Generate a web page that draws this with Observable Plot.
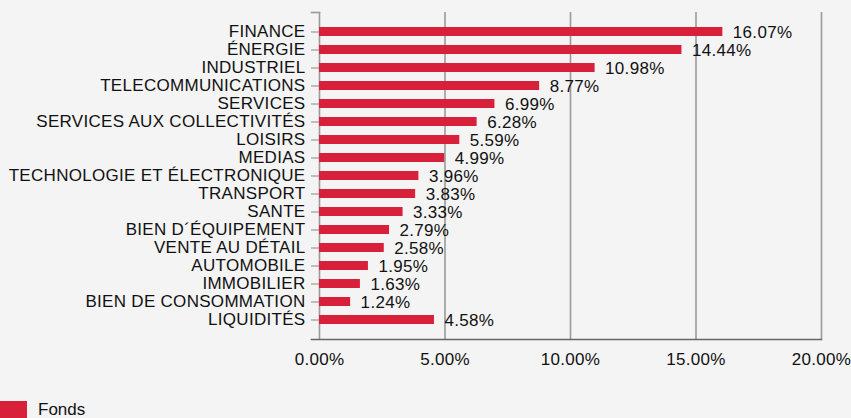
<!DOCTYPE html>
<html>
<head>
<meta charset="utf-8">
<script src="https://cdn.jsdelivr.net/npm/d3@7"></script>
<script src="https://cdn.jsdelivr.net/npm/@observablehq/plot@0.6"></script>
<style>
  html, body { margin: 0; padding: 0; background: #f4f4f4; overflow: hidden; }
  #chart svg { display: block; background: #f4f4f4; }
  .legend { display: flex; align-items: flex-start; margin-top: 0px; font-family: "Liberation Sans", Arial, sans-serif; font-size: 17px; color: #111; }
  .legend .sw { width: 27px; height: 18px; background: #d9203a; margin-right: 11px; }
  .legend span { line-height: 17px; margin-top: 0px; }
</style>
</head>
<body>
<div id="chart"></div>
<div class="legend"><div class="sw"></div><span>Fonds</span></div>
<script>
const categories = [
  "FINANCE", "ÉNERGIE", "INDUSTRIEL", "TELECOMMUNICATIONS", "SERVICES",
  "SERVICES AUX COLLECTIVITÉS", "LOISIRS", "MEDIAS", "TECHNOLOGIE ET ÉLECTRONIQUE",
  "TRANSPORT", "SANTE", "BIEN D´ÉQUIPEMENT", "VENTE AU DÉTAIL", "AUTOMOBILE",
  "IMMOBILIER", "BIEN DE CONSOMMATION", "LIQUIDITÉS"
];
const values = [16.07, 14.44, 10.98, 8.77, 6.99, 6.28, 5.59, 4.99, 3.96, 3.83, 3.33, 2.79, 2.58, 1.95, 1.63, 1.24, 4.58];
const xTicks = [0, 5, 10, 15, 20];
const seriesName = "Fonds";

const data = categories.map((c, i) => ({category: c, value: values[i], series: seriesName}));
const red = "#d9203a";
const W = 851, H = 401, ml = 319, mr = 30, mt = 12, mb = H - 339;

const chart = Plot.plot({
  width: W,
  height: H,
  marginLeft: ml,
  marginRight: mr,
  marginTop: mt,
  marginBottom: mb,
  style: {background: "#f4f4f4", fontFamily: "'Liberation Sans', Arial, sans-serif", fontSize: "17px", letterSpacing: "0.3px", color: "#111"},
  x: {domain: [0, 20]},
  y: {domain: categories, paddingInner: 0.52, paddingOuter: 0.75},
  marks: [
    Plot.ruleX(xTicks.slice(1), {stroke: "#9a9a9a", strokeWidth: 1.6}),
    Plot.ruleX([0], {stroke: "#9a9a9a", strokeWidth: 1.6}),
    Plot.frame({anchor: "top", insetLeft: -8, insetRight: W - ml - mr, stroke: "#9a9a9a", strokeWidth: 1.6}),
    Plot.barX(data, {x: "value", y: "category", fill: red}),
    Plot.text(data, {x: "value", y: "category", text: d => d.value.toFixed(2) + "%", textAnchor: "start", dx: 10, dy: 1, fontSize: 17, fill: "#111"}),
    Plot.frame({anchor: "bottom", insetLeft: -8, stroke: "#666", strokeWidth: 1.6}),
    Plot.axisY({tickSize: 8, tickPadding: 6, stroke: "#888", label: null, fontSize: 17}),
    Plot.axisX({ticks: xTicks, tickSize: 0, tickPadding: 13, tickFormat: d => d.toFixed(2) + "%", label: null, fontSize: 17})
  ]
});
document.getElementById("chart").appendChild(chart);
</script>
</body>
</html>
